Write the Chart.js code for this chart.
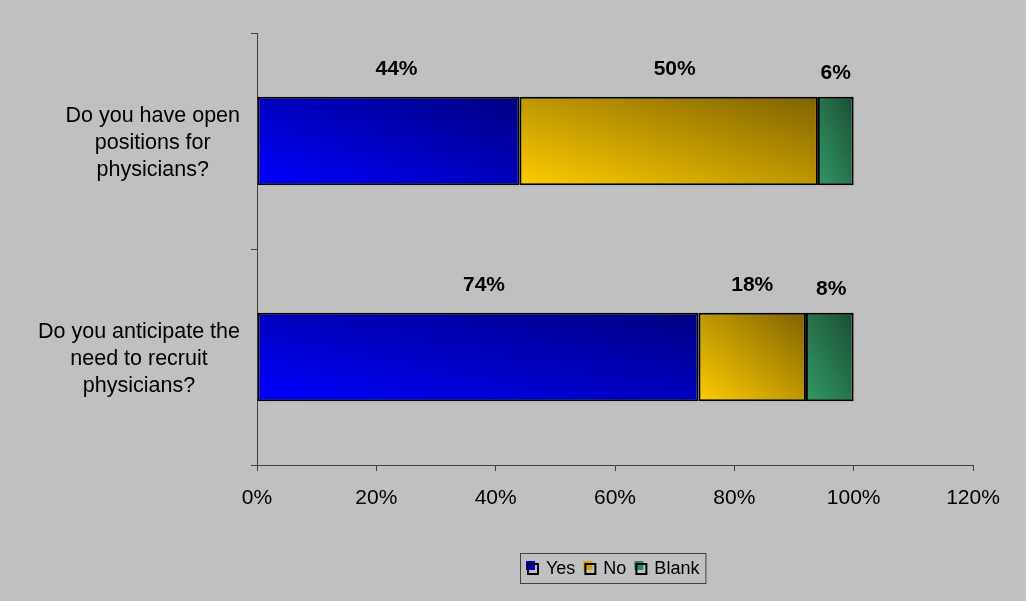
<!DOCTYPE html>
<html>
<head>
<meta charset="utf-8">
<script src="https://cdn.jsdelivr.net/npm/chart.js@4/dist/chart.umd.min.js"></script>
<style>
  html, body { margin: 0; padding: 0; background: #c0c0c0; }
  #wrap { width: 1026px; height: 601px; position: relative; }
  canvas { display: block; }
</style>
</head>
<body>
<div id="wrap"><canvas id="c" width="1026" height="601"></canvas></div>
<script>
// ---- data ----
const categories = [
  ["Do you have open", "positions for", "physicians?"],
  ["Do you anticipate the", "need to recruit", "physicians?"]
];
const seriesNames = ["Yes", "No", "Blank"];
const yesValues = [44, 74];
const noValues = [50, 18];
const blankValues = [6, 8];
const xTickMin = 0;
const xTickMax = 120;
const xTickStep = 20;

// ---- styling ----
const FONT = '"Liberation Sans", Arial, sans-serif';
const BAR_PCT = 0.41;
const gradStops = {
  Yes:   ['#0000ff', '#000080'],
  No:    ['#ffcc00', '#7f6300'],
  Blank: ['#339966', '#1a4d33']
};
const legendColors = { Yes: '#0000d0', No: '#d4a800', Blank: '#2e8a5c' };
// small label placement nudges (dx, dy) per series / category, as in the reference
const labelNudge = {
  Yes:   [[8, 0], [6, 0]],
  No:    [[6, 0], [0, 0]],
  Blank: [[0, 4], [1.5, 4.5]]
};
const allSeries = [yesValues, noValues, blankValues];

function barGradient(ctx) {
  const chart = ctx.chart;
  const xs = chart.scales.x, ys = chart.scales.y;
  if (!xs || !ys || !chart.chartArea || ctx.type !== 'data') return gradStops[seriesNames[ctx.datasetIndex]][0];
  const di = ctx.datasetIndex, i = ctx.dataIndex;
  let start = 0;
  for (let k = 0; k < di; k++) start += allSeries[k][i];
  const end = start + allSeries[di][i];
  const x0 = xs.getPixelForValue(start), x1 = xs.getPixelForValue(end);
  const cy = ys.getPixelForValue(i);
  const h = (ys.height / categories.length) * BAR_PCT;
  const w = Math.max(1, x1 - x0);
  const y1 = cy + h / 2;
  const gx = 1 / (2 * w), gy = -1 / (2 * h);
  const g2 = gx * gx + gy * gy;
  const dx = gx / g2, dy = gy / g2;
  const c = chart.ctx;
  const grad = c.createLinearGradient(x0, y1, x0 + dx, y1 + dy);
  const stops = gradStops[seriesNames[di]];
  grad.addColorStop(0, stops[0]);
  grad.addColorStop(1, stops[1]);
  return grad;
}

const labelPlugin = {
  id: 'customText',
  afterDatasetsDraw(chart) {
    const c = chart.ctx;
    const ys = chart.scales.y;
    c.save();
    c.fillStyle = '#000';
    c.font = '21.5px ' + FONT;
    c.textAlign = 'center';
    c.textBaseline = 'alphabetic';
    const rightEdge = ys.right - 17;
    categories.forEach((lines, i) => {
      const cy = ys.getPixelForValue(i);
      const maxW = Math.max(...lines.map(l => c.measureText(l).width));
      const cx = rightEdge - maxW / 2;
      lines.forEach((l, k) => {
        c.fillText(l, cx, cy + 7.5 + (k - 1) * 27);
      });
    });
    c.font = 'bold 21px ' + FONT;
    c.textBaseline = 'middle';
    chart.data.datasets.forEach((ds, di) => {
      const meta = chart.getDatasetMeta(di);
      const nudges = labelNudge[seriesNames[di]];
      meta.data.forEach((el, i) => {
        const p = el.getProps(['x', 'y', 'base', 'height'], true);
        const cx = (p.x + p.base) / 2 + nudges[i][0];
        const y = p.y - p.height / 2 - 28 + nudges[i][1];
        c.fillText(ds.data[i] + '%', cx, y);
      });
    });
    c.restore();
  },
  afterDraw(chart) {
    const c = chart.ctx;
    c.save();
    c.font = '18px ' + FONT;
    c.textBaseline = 'middle';
    c.textAlign = 'left';
    const marker = 20, gap = 8;
    const widths = seriesNames.map(n => c.measureText(n).width);
    let total = 0;
    widths.forEach((w, k) => { total += marker + w + (k < widths.length - 1 ? gap : 0); });
    const boxW = total + 12, boxH = 30;
    const centerX = 613;
    const bx = Math.round(centerX - boxW / 2), by = 553;
    c.strokeStyle = '#404040';
    c.lineWidth = 1;
    c.strokeRect(bx + 0.5, by + 0.5, boxW, boxH);
    let x = bx + 6;
    const cy = by + boxH / 2;
    seriesNames.forEach((n, k) => {
      c.fillStyle = legendColors[n];
      c.fillRect(x, cy - 7, 9, 9);
      c.strokeStyle = '#000';
      c.lineWidth = 2;
      c.strokeRect(x + 2, cy - 4, 10, 10);
      c.fillStyle = '#000';
      c.fillText(n, x + marker, cy + 1);
      x += marker + widths[k] + gap;
    });
    c.restore();
  }
};

const chart = new Chart(document.getElementById('c'), {
  type: 'bar',
  data: {
    labels: categories.map(l => l.join(' ')),
    datasets: [
      { label: seriesNames[0], data: yesValues },
      { label: seriesNames[1], data: noValues },
      { label: seriesNames[2], data: blankValues }
    ].map(d => Object.assign(d, {
      backgroundColor: barGradient,
      borderColor: '#000',
      borderWidth: 2,
      borderSkipped: false,
      barPercentage: BAR_PCT,
      categoryPercentage: 1
    }))
  },
  options: {
    indexAxis: 'y',
    responsive: false,
    animation: false,
    events: [],
    layout: { padding: { top: 33, right: 53, bottom: 91, left: 0 } },
    plugins: { legend: { display: false }, tooltip: { enabled: false } },
    scales: {
      x: {
        stacked: true,
        min: xTickMin,
        max: xTickMax,
        ticks: {
          stepSize: xTickStep,
          color: '#000',
          font: { family: FONT, size: 21 },
          padding: 15,
          callback: v => v + '%'
        },
        grid: { drawOnChartArea: false, drawTicks: true, tickLength: 6, color: '#404040', lineWidth: 1 },
        border: { display: true, color: '#404040', width: 1 },
        afterFit(s) { s.height = 45; }
      },
      y: {
        stacked: true,
        ticks: { display: false },
        grid: { drawOnChartArea: false, drawTicks: true, tickLength: 6, color: '#404040', lineWidth: 1, offset: true },
        border: { display: true, color: '#404040', width: 1 },
        afterFit(s) { s.width = 257; }
      }
    }
  },
  plugins: [labelPlugin]
});
</script>
</body>
</html>
